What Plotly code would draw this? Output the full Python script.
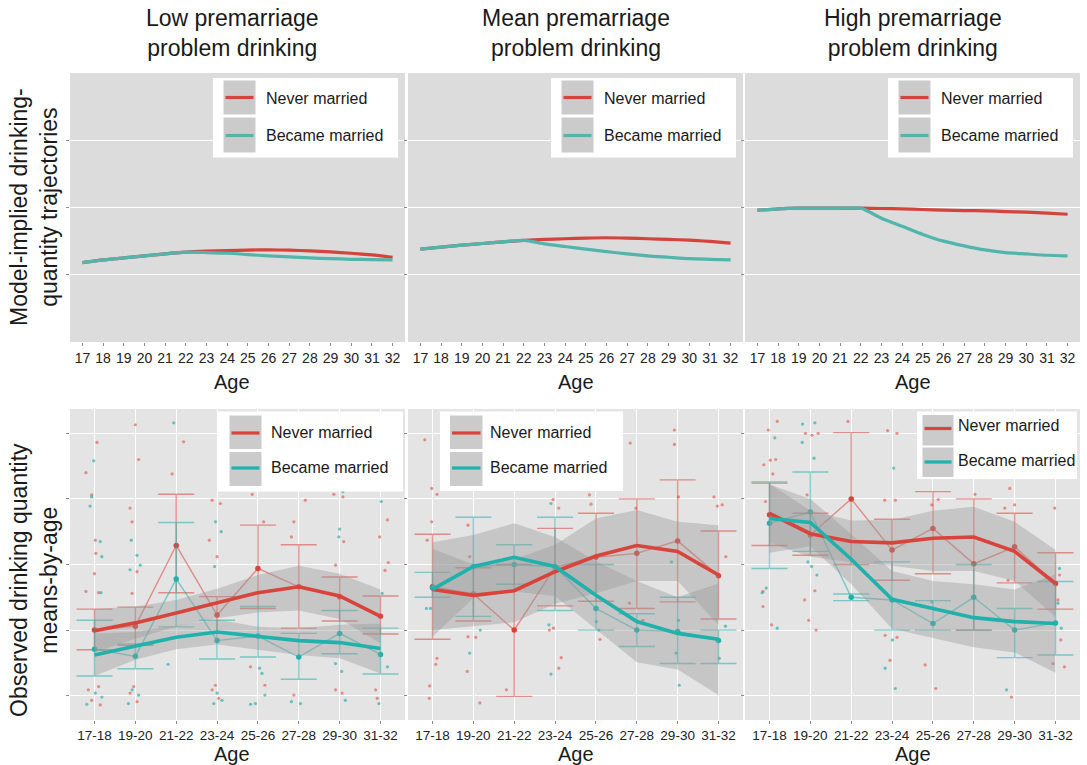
import plotly.graph_objects as go

W, H = 1087, 765
FONT = "Liberation Sans, Arial, Helvetica, sans-serif"

# ---------------- labels ----------------
panel_titles = ["Low premarriage<br>problem drinking",
                "Mean premarriage<br>problem drinking",
                "High premarriage<br>problem drinking"]
row_titles = ["Model-implied drinking-<br>quantity trajectories",
              "Observed drinking quantity<br>means-by-age"]
series_names = ["Never married", "Became married"]
x_title = "Age"

# ---------------- model-implied trajectories (top row) ----------------
ages = list(range(17, 33))
low_traj_never = [1.18, 1.22, 1.25, 1.28, 1.31, 1.335, 1.35, 1.36, 1.367, 1.37, 1.365, 1.355, 1.34, 1.32, 1.295, 1.26]
low_traj_married = [1.18, 1.22, 1.25, 1.28, 1.31, 1.335, 1.33, 1.32, 1.30, 1.28, 1.265, 1.25, 1.24, 1.23, 1.225, 1.22]
mean_traj_never = [1.38, 1.41, 1.44, 1.465, 1.49, 1.51, 1.525, 1.535, 1.545, 1.55, 1.545, 1.535, 1.525, 1.515, 1.495, 1.47]
mean_traj_married = [1.38, 1.41, 1.44, 1.465, 1.49, 1.51, 1.46, 1.42, 1.38, 1.345, 1.31, 1.28, 1.26, 1.24, 1.23, 1.22]
high_traj_never = [1.96, 1.98, 1.99, 1.99, 1.99, 1.99, 1.985, 1.98, 1.97, 1.96, 1.955, 1.95, 1.94, 1.93, 1.915, 1.90]
high_traj_married = [1.96, 1.98, 1.99, 1.99, 1.99, 1.99, 1.84, 1.72, 1.60, 1.50, 1.43, 1.37, 1.33, 1.31, 1.29, 1.28]

# ---------------- observed means by age group (bottom row) ----------------
age_groups = ["17-18", "19-20", "21-22", "23-24", "25-26", "27-28", "29-30", "31-32"]

# smoothed fits with confidence band
low_fit_never = [1.99, 2.11, 2.26, 2.41, 2.57, 2.66, 2.52, 2.21]
low_fit_never_lo = [1.66, 1.87, 2.06, 2.18, 2.27, 2.30, 2.17, 1.80]
low_fit_never_hi = [2.32, 2.36, 2.46, 2.63, 2.84, 2.98, 2.86, 2.62]
low_fit_married = [1.62, 1.76, 1.89, 1.97, 1.90, 1.84, 1.81, 1.72]
low_fit_married_lo = [1.30, 1.55, 1.71, 1.78, 1.70, 1.62, 1.57, 1.34]
low_fit_married_hi = [1.95, 1.97, 2.07, 2.16, 2.05, 2.03, 2.08, 2.10]

mean_fit_never = [2.62, 2.53, 2.60, 2.89, 3.13, 3.29, 3.20, 2.84]
mean_fit_never_lo = [2.00, 2.06, 2.12, 2.40, 2.56, 2.75, 2.75, 2.08]
mean_fit_never_hi = [3.24, 3.00, 3.08, 3.30, 3.70, 3.83, 3.65, 3.60]
mean_fit_married = [2.62, 2.97, 3.11, 2.97, 2.53, 2.13, 1.95, 1.86]
mean_fit_married_lo = [1.90, 2.49, 2.59, 2.52, 2.01, 1.51, 1.40, 1.01]
mean_fit_married_hi = [3.34, 3.45, 3.63, 3.42, 3.05, 2.75, 2.50, 2.71]

high_fit_never = [3.78, 3.47, 3.35, 3.33, 3.40, 3.42, 3.20, 2.71]
high_fit_never_lo = [3.33, 3.12, 3.03, 2.98, 2.90, 2.90, 2.75, 2.20]
high_fit_never_hi = [4.23, 3.82, 3.67, 3.68, 3.82, 3.88, 3.65, 3.22]
high_fit_married = [3.70, 3.64, 3.08, 2.47, 2.33, 2.19, 2.13, 2.10]
high_fit_married_lo = [3.18, 3.28, 2.70, 2.02, 1.88, 1.74, 1.66, 1.35]
high_fit_married_hi = [4.22, 4.00, 3.46, 2.90, 2.75, 2.70, 2.62, 2.85]

# group means with error bars
low_obs_never = [2.00, 2.06, 3.29, 2.23, 2.94, 2.66, 2.51, 2.21]
low_obs_never_lo = [1.70, 1.77, 2.57, 1.95, 2.33, 2.03, 2.14, 1.94]
low_obs_never_hi = [2.32, 2.35, 4.07, 2.51, 3.60, 3.30, 2.81, 2.52]
low_obs_married = [1.71, 1.60, 2.78, 1.84, 1.91, 1.59, 1.95, 1.63]
low_obs_married_lo = [1.30, 1.41, 2.05, 1.56, 1.59, 1.25, 1.64, 1.33]
low_obs_married_hi = [2.15, 1.79, 3.64, 2.15, 2.36, 1.95, 2.30, 2.03]

mean_obs_never = [2.66, 2.55, 2.00, 2.96, 3.11, 3.17, 3.36, 2.83]
mean_obs_never_lo = [1.86, 2.14, 0.99, 2.37, 2.44, 2.33, 2.43, 2.17]
mean_obs_never_hi = [3.46, 2.95, 3.00, 3.55, 3.78, 4.00, 4.29, 3.51]
mean_obs_married = [2.64, 2.97, 3.00, 2.97, 2.33, 2.00, 1.98, 1.84]
mean_obs_married_lo = [2.50, 2.21, 2.70, 2.30, 2.00, 1.75, 1.49, 1.49]
mean_obs_married_hi = [2.88, 3.72, 3.30, 3.72, 3.00, 2.25, 2.50, 2.00]

high_obs_never = [3.76, 3.45, 4.00, 3.22, 3.55, 3.01, 3.27, 2.71]
high_obs_never_lo = [3.29, 3.14, 3.00, 2.76, 2.86, 2.00, 2.72, 2.32]
high_obs_never_hi = [4.24, 3.78, 5.01, 3.69, 4.11, 4.00, 3.78, 3.18]
high_obs_married = [3.63, 3.80, 2.50, 2.46, 2.10, 2.50, 2.00, 2.11]
high_obs_married_lo = [2.94, 3.20, 2.45, 2.00, 2.00, 2.00, 1.58, 1.62]
high_obs_married_hi = [4.26, 4.41, 2.55, 3.04, 2.45, 3.00, 2.33, 2.74]

# individual responses (jittered age-group position, value)
low_raw_never_x = [0.06, -0.21, -0.07, 0.02, 0.03, 0.0, -0.21, 0.10, 1.0, 1.08, 0.87, 0.92, 1.04, 0.92,
                   1.90, 2.18, 2.88, 3.08, 2.81, 3.0, -0.15, 0.10, -0.07, 0.14, 0.87, 1.04, 0.96, 2.88,
                   3.04, 2.96, 3.86, 4.14, 4.88, 4.82, 5.16, 5.86, 6.08, 5.90, 6.10, 6.98, 7.17, 7.19,
                   7.11, 4.17, 4.88, 5.90, 6.06, 6.88, 6.92, 3.82]
low_raw_never_y = [4.86, 4.40, 4.06, 3.37, 3.17, 2.86, 2.59, 2.57, 5.13, 4.60, 3.86, 3.65, 2.89, 2.56,
                   4.38, 4.87, 3.98, 3.93, 3.37, 3.12, 1.09, 1.14, 0.93, 0.86, 1.04, 0.91, 1.14, 1.09,
                   0.96, 1.16, 4.07, 3.65, 3.65, 3.42, 3.98, 4.07, 4.03, 2.99, 3.35, 3.42, 3.68, 3.03,
                   2.91, 1.16, 1.01, 1.09, 1.04, 1.09, 0.96, 1.44]
low_raw_married_x = [-0.02, -0.11, -0.07, 0.14, 0.18, 0.16, 0.90, 1.04, 0.87, 1.12, 1.94, 1.80, 2.96,
                     3.10, 2.94, 0.02, -0.19, 0.18, 0.83, 1.08, 0.92, 2.92, 3.12, 3.0, 3.82, 4.17, 4.04,
                     4.10, 4.82, 5.04, 6.0, 6.08, 5.98, 5.90, 6.05, 7.02, 7.04, 7.17, 6.96, 3.94, 6.14]
low_raw_married_y = [4.58, 3.89, 4.03, 3.35, 3.12, 2.57, 3.37, 3.14, 2.92, 2.99, 5.16, 1.48, 3.65,
                     3.50, 2.97, 1.04, 0.87, 0.98, 0.88, 1.01, 1.09, 0.88, 0.93, 1.04, 0.87, 1.01, 1.42,
                     1.34, 0.91, 0.88, 3.54, 4.11, 3.42, 1.49, 1.37, 3.96, 2.56, 1.44, 0.88, 0.88, 0.93]

mean_raw_never_x = [-0.19, -0.02, 0.11, -0.02, -0.13, 0.11, 0.08, -0.07, -0.08, 0.87, 0.91, 0.87, 1.06,
                    0.85, 1.16, 1.81, 2.95, 3.09, 2.86, 2.96, 3.15, 3.09, 3.84, 3.88, 4.84, 4.98, 4.82,
                    5.92, 5.92, 6.02, 6.89, 6.97, 7.09, 7.18, 4.10, 5.15]
mean_raw_never_y = [4.90, 4.16, 4.07, 3.65, 3.37, 1.57, 1.48, 1.15, 0.96, 3.60, 3.12, 1.90, 1.89,
                    1.37, 0.89, 1.09, 3.99, 3.86, 2.00, 2.03, 1.58, 1.42, 4.06, 3.92, 4.85, 3.86, 2.41,
                    5.05, 4.83, 4.03, 4.03, 3.89, 3.91, 3.12, 1.86, 2.15]
mean_raw_married_x = [-0.15, -0.05, 0.91, 1.17, 2.90, 2.85, 2.90, 1.99, 4.01, 4.07, 5.85, 6.02, 5.96,
                      6.04, 7.17, 7.02]
mean_raw_married_y = [2.33, 2.33, 1.65, 2.00, 3.93, 2.08, 1.33, 2.00, 2.13, 2.00, 3.04, 2.15, 1.65,
                      1.16, 2.06, 1.57]

high_raw_never_x = [0.19, -0.03, 0.02, 0.15, -0.14, 0.08, -0.10, -0.16, -0.16, 0.05, 0.88, 1.04, 1.19,
                    0.92, 0.86, 1.11, 0.96, 1.14, 1.92, 2.82, 3.08, 2.89, 3.12, 2.83, 3.12, 2.95, 3.81,
                    3.97, 4.07, 4.13, 5.03, 5.76, 6.0, 5.88, 5.92, 6.98, 7.10, 7.06, 7.13, 6.94, 7.22, 5.84]
high_raw_never_y = [5.18, 5.05, 4.59, 4.60, 4.52, 4.38, 3.96, 2.59, 2.36, 2.08, 5.0, 4.97, 5.0,
                    4.06, 2.46, 2.60, 2.15, 2.0, 5.18, 3.98, 3.98, 5.04, 5.0, 1.92, 1.89, 1.54, 1.47,
                    3.91, 1.11, 3.99, 4.07, 3.86, 3.91, 4.16, 0.98, 3.86, 2.84, 2.46, 1.85, 1.49, 1.44, 2.76]
high_raw_married_x = [0.81, 1.11, 0.80, 0.13, 1.09, 3.04, -0.18, -0.08, 0.19, 1.03, 1.16, 0.94, 2.83,
                      3.08, 3.01, 3.97, 5.80, 7.10, 7.14, 7.06]
high_raw_married_y = [5.14, 5.16, 4.86, 4.93, 4.62, 4.47, 2.57, 2.64, 2.03, 2.97, 2.84, 3.04, 1.42,
                      1.11, 1.85, 2.43, 1.09, 2.94, 2.03, 2.41]

# ---------------- styling ----------------
RED = "#D8433B"
TEAL = "#1FB1AC"
TOP_RED = "#D4433C"
TOP_TEAL = "#52B5AB"
RED_THIN = "rgba(216,67,59,0.55)"
TEAL_THIN = "rgba(31,177,172,0.55)"
RED_PT = "rgba(226,110,100,0.75)"
TEAL_PT = "rgba(60,178,176,0.75)"
BAND = "rgba(153,153,153,0.40)"
TOP_BG = "#dcdcdc"
BOT_BG = "#e4e4e4"
TEXT = "#1a1a1a"

# panel boxes in pixels (left, right) and (top, bottom)
COLS = [(70, 405), (408, 743), (745, 1080)]
TOP_ROW = (73, 342)
BOT_ROW = (409, 720)


def fx(x):
    return x / W


def fy(y):
    return 1 - y / H


fig = go.Figure()
layout = dict(
    width=W, height=H, margin=dict(l=0, r=0, t=0, b=0),
    paper_bgcolor="white", plot_bgcolor=BOT_BG, showlegend=False,
    font=dict(family=FONT, color=TEXT),
)

axis_common = dict(showline=False, zeroline=False, ticks="outside", ticklen=3,
                   tickcolor="#8a8a8a", tickwidth=1, gridcolor="white", gridwidth=1.1,
                   tickfont=dict(size=14, color="#222222", family=FONT), fixedrange=True)

shapes = []
annotations = []

top_sets = [(low_traj_never, low_traj_married),
            (mean_traj_never, mean_traj_married),
            (high_traj_never, high_traj_married)]

bottom_sets = [
    dict(raw=(low_raw_never_x, low_raw_never_y, low_raw_married_x, low_raw_married_y),
         fit=(low_fit_never, low_fit_never_lo, low_fit_never_hi,
              low_fit_married, low_fit_married_lo, low_fit_married_hi),
         obs=(low_obs_never, low_obs_never_lo, low_obs_never_hi,
              low_obs_married, low_obs_married_lo, low_obs_married_hi)),
    dict(raw=(mean_raw_never_x, mean_raw_never_y, mean_raw_married_x, mean_raw_married_y),
         fit=(mean_fit_never, mean_fit_never_lo, mean_fit_never_hi,
              mean_fit_married, mean_fit_married_lo, mean_fit_married_hi),
         obs=(mean_obs_never, mean_obs_never_lo, mean_obs_never_hi,
              mean_obs_married, mean_obs_married_lo, mean_obs_married_hi)),
    dict(raw=(high_raw_never_x, high_raw_never_y, high_raw_married_x, high_raw_married_y),
         fit=(high_fit_never, high_fit_never_lo, high_fit_never_hi,
              high_fit_married, high_fit_married_lo, high_fit_married_hi),
         obs=(high_obs_never, high_obs_never_lo, high_obs_never_hi,
              high_obs_married, high_obs_married_lo, high_obs_married_hi)),
]

cats = list(range(len(age_groups)))


def ax_names(n):
    return ("x" if n == 1 else f"x{n}"), ("y" if n == 1 else f"y{n}")


# ---- top row: trajectories ----
for i, (never, married) in enumerate(top_sets):
    n = i + 1
    xa, ya = ax_names(n)
    c0, c1 = COLS[i]
    layout["xaxis" if n == 1 else f"xaxis{n}"] = dict(
        axis_common, domain=[fx(c0), fx(c1)], anchor=ya, range=[16.4, 32.6],
        tickmode="array", tickvals=ages, ticktext=[str(a) for a in ages], showgrid=False)
    layout["yaxis" if n == 1 else f"yaxis{n}"] = dict(
        axis_common, domain=[fy(TOP_ROW[1]), fy(TOP_ROW[0])], anchor=xa, range=[0, 4],
        tickmode="array", tickvals=[1, 2, 3], showticklabels=False, showgrid=True)
    shapes.append(dict(type="rect", xref=f"{xa} domain", yref=f"{ya} domain",
                       x0=0, x1=1, y0=0, y1=1, fillcolor=TOP_BG, line=dict(width=0), layer="below"))
    fig.add_trace(go.Scatter(x=ages, y=never, mode="lines", xaxis=xa, yaxis=ya,
                             line=dict(color=TOP_RED, width=3.2, shape="spline", smoothing=0.6),
                             name=series_names[0]))
    fig.add_trace(go.Scatter(x=ages, y=married, mode="lines", xaxis=xa, yaxis=ya,
                             line=dict(color=TOP_TEAL, width=3.2, shape="spline", smoothing=0.6),
                             name=series_names[1]))

# ---- bottom row: observed means ----
for i, d in enumerate(bottom_sets):
    n = i + 4
    xa, ya = ax_names(n)
    c0, c1 = COLS[i]
    layout[f"xaxis{n}"] = dict(
        axis_common, domain=[fx(c0), fx(c1)], anchor=ya, range=[-0.6, 7.6],
        tickmode="array", tickvals=cats, ticktext=age_groups, showgrid=True,
        tickfont=dict(size=13.5, color="#222222", family=FONT))
    layout[f"yaxis{n}"] = dict(
        axis_common, domain=[fy(BOT_ROW[1]), fy(BOT_ROW[0])], anchor=xa, range=[0.63, 5.37],
        tickmode="array", tickvals=[1, 2, 3, 4, 5], showticklabels=False, showgrid=True)

    rnx, rny, rmx, rmy = d["raw"]
    fig.add_trace(go.Scatter(x=rnx, y=rny, mode="markers", xaxis=xa, yaxis=ya,
                             marker=dict(size=3.2, color=RED_PT, line=dict(width=0))))
    fig.add_trace(go.Scatter(x=rmx, y=rmy, mode="markers", xaxis=xa, yaxis=ya,
                             marker=dict(size=3.2, color=TEAL_PT, line=dict(width=0))))

    on, onlo, onhi, om, omlo, omhi = d["obs"]
    for mean, lo, hi, thin, solid, nm in [(on, onlo, onhi, RED_THIN, RED, series_names[0]),
                                           (om, omlo, omhi, TEAL_THIN, TEAL, series_names[1])]:
        fig.add_trace(go.Scatter(
            x=cats, y=mean, mode="lines+markers", xaxis=xa, yaxis=ya, name=nm,
            line=dict(color=thin, width=1.4),
            marker=dict(size=5.5, color=solid),
            error_y=dict(type="data", symmetric=False,
                         array=[h - m for h, m in zip(hi, mean)],
                         arrayminus=[m - l for m, l in zip(mean, lo)],
                         color=thin, thickness=1.4, width=18)))

    fn, fnlo, fnhi, fm, fmlo, fmhi = d["fit"]
    for lo, hi in [(fnlo, fnhi), (fmlo, fmhi)]:
        fig.add_trace(go.Scatter(x=cats + cats[::-1], y=hi + lo[::-1], mode="lines",
                                 xaxis=xa, yaxis=ya, fill="toself", fillcolor=BAND,
                                 line=dict(width=0), hoverinfo="skip"))
    fig.add_trace(go.Scatter(x=cats, y=fn, mode="lines", xaxis=xa, yaxis=ya, name=series_names[0],
                             line=dict(color=RED, width=3.6)))
    fig.add_trace(go.Scatter(x=cats, y=fm, mode="lines", xaxis=xa, yaxis=ya, name=series_names[1],
                             line=dict(color=TEAL, width=3.6)))

# ---- legends (one per panel) ----
def legend_box(box, keys, rows, text_x, line_colors):
    bx0, bx1, by0, by1 = box
    shapes.append(dict(type="rect", xref="paper", yref="paper", x0=fx(bx0), x1=fx(bx1),
                       y0=fy(by1), y1=fy(by0), fillcolor="white", line=dict(width=0), layer="above"))
    kx0, kx1 = keys
    for (ky0, ky1, ly, ty), name, col in zip(rows, series_names, line_colors):
        shapes.append(dict(type="rect", xref="paper", yref="paper", x0=fx(kx0), x1=fx(kx1),
                           y0=fy(ky1), y1=fy(ky0), fillcolor="#cbcbcb", line=dict(width=0),
                           layer="above"))
        shapes.append(dict(type="line", xref="paper", yref="paper", x0=fx(kx0 + 2), x1=fx(kx1 - 2),
                           y0=fy(ly), y1=fy(ly), line=dict(color=col, width=3.2), layer="above"))
        annotations.append(dict(xref="paper", yref="paper", x=fx(text_x), y=fy(ty),
                                xanchor="left", yanchor="middle", showarrow=False, text=name,
                                font=dict(size=16, color=TEXT, family=FONT)))


for c0, _ in COLS:
    legend_box((c0 + 143, c0 + 328, 78, 157.5), (c0 + 153.5, c0 + 185.5),
               [(80.5, 114.5, 97.5, 98.5), (117.5, 152.5, 135.5, 135)], c0 + 193.5,
               [TOP_RED, TOP_TEAL])

legend_box((218, 403, 411.5, 491.5), (229.5, 261.5),
           [(415.5, 449, 433, 432.5), (452, 486, 468, 467.5)], 268.5, [RED, TEAL])
legend_box((440, 623, 411.5, 491), (450, 482.5),
           [(415.5, 449, 433, 432.5), (452, 486, 468, 467.5)], 488, [RED, TEAL])
legend_box((917, 1077, 411.5, 479), (922.5, 953.5),
           [(415, 445.5, 428.5, 425), (447.5, 477, 462, 460)], 956, [RED, TEAL])

# ---- titles and axis titles ----
title_centers = [232, 576, 913]
for cx, t in zip(title_centers, panel_titles):
    annotations.append(dict(xref="paper", yref="paper", x=fx(cx), y=fy(33), xanchor="center",
                            yanchor="middle", showarrow=False, text=t,
                            font=dict(size=23, color=TEXT, family=FONT)))
    for yc in (382, 753.5):
        annotations.append(dict(xref="paper", yref="paper", x=fx(cx), y=fy(yc), xanchor="center",
                                yanchor="middle", showarrow=False, text=x_title,
                                font=dict(size=20, color=TEXT, family=FONT)))

for yc, t in zip((207, 580), row_titles):
    annotations.append(dict(xref="paper", yref="paper", x=fx(34), y=fy(yc), xanchor="center",
                            yanchor="middle", showarrow=False, text=t, textangle=-90,
                            font=dict(size=23, color=TEXT, family=FONT)))

layout["shapes"] = shapes
layout["annotations"] = annotations
fig.update_layout(**layout)
fig.write_html("out.html")
